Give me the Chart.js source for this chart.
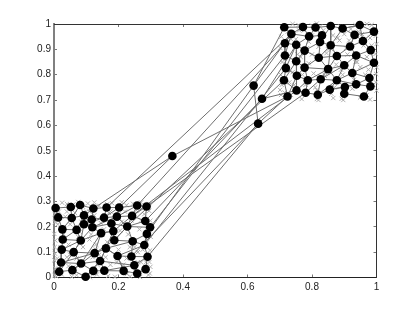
<!DOCTYPE html>
<html>
<head>
<meta charset="utf-8">
<style>
  html, body { margin: 0; padding: 0; background: #fff; }
  canvas { display: block; }
</style>
<script src="https://cdn.jsdelivr.net/npm/chart.js@4"></script>
</head>
<body>
<canvas id="canvas" width="415" height="312"></canvas>
<script>
// tick labels
const xTicks = [0, 0.2, 0.4, 0.6, 0.8, 1];
const yTicks = [0, 0.1, 0.2, 0.3, 0.4, 0.5, 0.6, 0.7, 0.8, 0.9, 1];

// samples (grey crosses)
const sampleX = [
  .005,.025,.04,.06,.075,.09,.105,.125,.14,.165,.18,.21,.225,.245,.27,.295,
  .008,.024,.055,.07,.112,.133,.168,.189,.226,.236,.267,.293,
  .002,.003,.001,.004,.002,.003,.001,.004,.002,
  .295,.299,.297,.300,.298,.296,.299,.297,
  .04,.05,.045,.075,.105,.11,.13,.15,.165,.21,.23,.25,.265,.27,.135,.195,.04,.07,.2,.24,.17,.11,.215,.06,.14,.26,
  .015,.035,.065,.085,.1,.125,.145,.175,.2,.22,.255,.28,.012,.03,.08,.115,.155,.185,.205,.27,.29,.02,.05,.09,.13,.16,.235,.275,.01,.045,.075,.12,.175,.225,.26,.285,
  .74,.758,.8,.815,.825,.856,.888,.935,.95,.97,.985,
  .998,1.0,.997,1.001,.999,.998,1.0,
  .768,.815,.82,.866,.892,.897,.949,.98,
  .705,.702,.708,.703,.706,.701,.704,
  .735,.76,.79,.8,.84,.87,.9,.905,.97,.96,.94,.915,.845,.81,.765,.735,.86,.955,.83,.89,.965,.79,.74,.88,.925,.985,
  .725,.75,.775,.8,.835,.865,.885,.92,.945,.98,.72,.755,.785,.82,.85,.875,.91,.935,.975,.73,.77,.805,.84,.895,.95,.99,.715,.745,.78,.815,.86,.9,.93,.97
];
const sampleY = [
  .283,.295,.29,.288,.298,.279,.292,.296,.283,.289,.293,.297,.285,.291,.296,.29,
  .004,.012,.003,.009,.001,.012,.006,.003,.014,.004,.002,.01,
  .25,.218,.172,.146,.12,.094,.068,.036,.009,
  .263,.224,.186,.16,.107,.061,.042,.016,
  .26,.21,.13,.16,.225,.15,.13,.17,.14,.22,.17,.12,.19,.06,.05,.06,.08,.075,.11,.225,.255,.26,.05,.04,.09,.10,
  .26,.24,.255,.22,.26,.245,.215,.26,.25,.26,.265,.25,.21,.17,.18,.17,.19,.2,.185,.225,.2,.12,.09,.12,.11,.08,.12,.11,.075,.045,.045,.08,.05,.075,.06,.06,
  1.0,.996,.994,1.002,.99,.998,.99,.995,.992,1.0,.996,
  .954,.921,.882,.829,.803,.770,.737,
  .704,.704,.70,.708,.705,.70,.71,.702,
  .95,.905,.85,.80,.76,.74,.72,
  .94,.975,.93,.88,.81,.75,.96,.905,.87,.915,.85,.935,.885,.75,.87,.72,.90,.96,.775,.82,.80,.845,.81,.945,.745,.915,
  .97,.94,.975,.955,.975,.955,.935,.98,.97,.945,.84,.88,.905,.91,.9,.84,.88,.85,.82,.77,.8,.805,.795,.8,.83,.76,.73,.76,.76,.74,.725,.76,.78,.72
];

// map nodes (black dots)
const nodeX = [
  .005,.052,.081,.122,.163,.202,.258,.287,
  .013,.055,.093,.117,.155,.195,.242,.283,
  .026,.070,.093,.119,.178,.184,.227,.298,.146,.288,
  .027,.083,.187,.244,.280,
  .024,.061,.126,.161,.197,.240,.290,
  .022,.084,.143,.249,
  .016,.057,.098,.122,.156,.216,.258,.284,
  .714,.772,.811,.858,.895,.948,.992,
  .736,.791,.831,.932,
  .716,.751,.825,.858,.918,.958,.982,
  .716,.777,.877,.937,.821,
  .719,.751,.777,.850,.900,.992,
  .713,.753,.787,.827,.877,.925,.937,.978,
  .752,.780,.818,.855,.902,.900,.981,.961,.724,
  .367,.619,.645,.633
];
const nodeY = [
  .274,.278,.286,.272,.276,.276,.284,.280,
  .237,.235,.245,.229,.236,.240,.243,.223,
  .190,.188,.210,.198,.213,.183,.201,.198,.175,.172,
  .150,.146,.147,.143,.128,
  .110,.100,.096,.115,.085,.083,.082,
  .059,.055,.065,.048,
  .023,.029,.003,.026,.027,.026,.016,.033,
  .987,.988,.986,.992,.982,.996,.970,
  .961,.951,.955,.957,
  .924,.918,.929,.916,.911,.933,.897,
  .876,.895,.874,.876,.867,
  .826,.853,.828,.822,.837,.847,
  .778,.796,.778,.782,.778,.807,.762,.787,
  .738,.729,.721,.741,.751,.725,.754,.714,.714,
  .479,.757,.705,.607
];

// which nodes are joined, as chains of indices into nodeX / nodeY
const meshChains = [
  [0,1,2,3,4,5,6,7],
  [8,9,10,11,12,13,14,15],
  [16,17,18,19,20,22,23],
  [26,27,24,21,28,29,30,25],
  [31,32,33,34,35,36,37],
  [38,39,40,41],
  [42,43,44,45,46,47,48,49],
  [0,8,16,26,31,38,42],
  [1,9,17,27,32,39,43],
  [2,10,18,19,24,33,40,44],
  [3,11,19],
  [4,12,20,21,34,35,47],
  [5,13,22,28],
  [6,14,22,29,36,41,48],
  [7,15,23,25,30,37,49],
  [45,39,33,34,40,46],
  // longer crossing links inside the lower cluster
  [42,32,27,18,12,5],
  [43,39,24,21,14,7],
  [38,33,28,22,15],
  [44,40,34,29,25],
  [31,27,19,13,6],
  [26,17,10,3],
  [47,35,30,23],
  [46,41,37],
  [16,9,2],
  [50,51,52,53,54,55,56],
  [57,58,59,63,64,65,60,66,67],
  [61,62,69,72,70,71,78],
  [68,74,75,76,77,84,86],
  [73,80,81,82,83,85,93],
  [79,87,88,89,90,91,92,94],
  [50,57,61,68,73,79,95],
  [51,58,69,75,81,88],
  [52,59,63,72,76,82,89],
  [53,64,70,77,83,90],
  [54,60,65,71,84,85,91],
  [55,66,67,78,86,93,94],
  [56,60],
  [62,74,80,87],
  // longer crossing links inside the upper cluster
  [95,80,75,72,64,54,55],
  [87,81,76,70,65,66,56],
  [88,82,77,71,67],
  [89,83,84,78],
  [79,74,69,63,53],
  [73,62,58,52],
  [90,85,86],
  [92,91,83,76,64],
  [68,57,51],
  // long links between the two clusters
  [6,61],[5,96,95],[7,88],[14,87],[25,97,50],[23,68],[30,73],[22,79],
  [4,57],[15,98,87],[98,62],[37,99,95],[99,97],[97,57],[3,96],[36,99]
];

const lineDatasets = meshChains.map(chain => ({
  type: 'line',
  data: chain.map(i => ({ x: nodeX[i], y: nodeY[i] })),
  borderColor: '#6e6e6e',
  borderWidth: 1,
  pointRadius: 0,
  tension: 0,
  fill: false,
  order: 2,
  clip: false,
}));

const ctx = document.getElementById('canvas');
new Chart(ctx, {
  type: 'scatter',
  data: {
    datasets: [
      {
        data: nodeX.map((x, i) => ({ x: x, y: nodeY[i] })),
        pointStyle: 'circle',
        pointRadius: 4.3,
        backgroundColor: '#000',
        borderColor: '#000',
        borderWidth: 0,
        order: 1,
        clip: false,
      },
      ...lineDatasets,
      {
        data: sampleX.map((x, i) => ({ x: x, y: sampleY[i] })),
        pointStyle: 'crossRot',
        pointRadius: 3,
        borderColor: '#b0b0b0',
        borderWidth: 1,
        order: 3,
        clip: false,
      },
    ],
  },
  options: {
    responsive: false,
    animation: false,
    events: [],
    layout: { autoPadding: false, padding: { left: 0, top: 24, right: 38.5, bottom: 0 } },
    plugins: { legend: { display: false }, title: { display: false }, tooltip: { enabled: false } },
    scales: {
      x: {
        type: 'linear', position: 'bottom', min: 0, max: 1,
        afterBuildTicks: s => { s.ticks = xTicks.map(v => ({ value: v })); },
        afterFit: s => { s.height = 34.5; },
        grid: { drawOnChartArea: false, tickLength: -3, tickColor: '#777' },
        border: { color: '#222', width: 1 },
        ticks: { padding: 7, maxRotation: 0, autoSkip: false, color: '#222', callback: v => String(v), font: { family: 'Liberation Sans', size: 10 } },
      },
      y: {
        type: 'linear', position: 'left', min: 0, max: 1,
        afterBuildTicks: s => { s.ticks = yTicks.map(v => ({ value: v })); },
        afterFit: s => { s.width = 54; },
        grid: { drawOnChartArea: false, tickLength: -3, tickColor: '#777' },
        border: { color: '#808080', width: 2 },
        ticks: { padding: 6, autoSkip: false, color: '#222', callback: v => String(v), font: { family: 'Liberation Sans', size: 10 } },
      },
      xTop: {
        type: 'linear', position: 'top', min: 0, max: 1,
        afterBuildTicks: s => { s.ticks = xTicks.map(v => ({ value: v })); },
        afterFit: s => { s.height = 0; },
        grid: { drawOnChartArea: false, tickLength: -3, tickColor: '#777' },
        border: { color: '#333', width: 1 },
        ticks: { display: false },
      },
      yRight: {
        type: 'linear', position: 'right', min: 0, max: 1,
        afterBuildTicks: s => { s.ticks = yTicks.map(v => ({ value: v })); },
        afterFit: s => { s.width = 0; },
        grid: { drawOnChartArea: false, tickLength: -3, tickColor: '#777' },
        border: { color: '#333', width: 1 },
        ticks: { display: false },
      },
    },
  },
});
</script>
</body>
</html>
